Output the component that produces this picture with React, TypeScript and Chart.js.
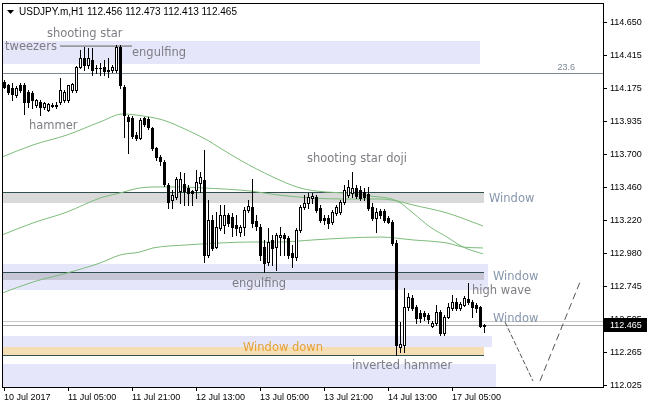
import React, { useEffect, useRef } from 'react';
import { Chart, registerables } from 'chart.js';

Chart.register(...registerables);

const SYMBOL = 'USDJPY.m,H1';
const HEADER_OHLC = '112.456 112.473 112.413 112.465';
const LAST_PRICE = 112.465;

const opens = [
  114.221, 114.200, 114.178, 114.127, 114.200, 114.200, 114.149, 114.142, 114.055, 114.077,
  114.040, 114.019, 114.055, 114.055, 114.077, 114.091, 114.091, 114.163, 114.163, 114.330,
  114.395, 114.344, 114.380, 114.322, 114.322, 114.330, 114.308, 114.308, 114.308, 114.474,
  114.185, 113.968, 113.961, 113.838, 113.816, 113.961, 113.954, 113.889, 113.744, 113.679,
  113.643, 113.476, 113.368, 113.390, 113.433, 113.484, 113.455, 113.433, 113.440, 113.491,
  113.513, 112.970, 113.223, 113.028, 113.165, 113.187, 113.260, 113.245, 113.187, 113.137,
  113.173, 113.296, 113.317, 113.216, 113.173, 113.028, 112.920, 113.079, 113.028, 113.100,
  113.115, 113.093, 112.985, 112.956, 113.151, 113.317, 113.346, 113.382, 113.390, 113.310,
  113.238, 113.238, 113.209, 113.274, 113.281, 113.353, 113.404, 113.419, 113.455, 113.440,
  113.426, 113.411, 113.317, 113.238, 113.288, 113.288, 113.238, 113.209, 113.057, 112.305,
  112.320, 112.594, 112.659, 112.594, 112.551, 112.551, 112.536, 112.457, 112.478, 112.558,
  112.406, 112.522, 112.587, 112.630, 112.587, 112.609, 112.652, 112.630, 112.609, 112.594,
  112.456,
];
const highs = [
  114.236, 114.207, 114.214, 114.192, 114.214, 114.214, 114.163, 114.156, 114.098, 114.091,
  114.077, 114.069, 114.069, 114.077, 114.250, 114.163, 114.200, 114.214, 114.337, 114.453,
  114.474, 114.467, 114.467, 114.344, 114.359, 114.380, 114.395, 114.344, 114.489, 114.489,
  114.200, 113.983, 113.975, 113.860, 113.961, 113.968, 113.968, 113.896, 113.751, 113.693,
  113.657, 113.491, 113.440, 113.534, 113.570, 113.563, 113.476, 113.440, 113.585, 113.570,
  113.729, 113.368, 113.260, 113.281, 113.332, 113.332, 113.274, 113.274, 113.260, 113.187,
  113.317, 113.368, 113.520, 113.260, 113.194, 113.079, 113.165, 113.115, 113.129, 113.173,
  113.129, 113.108, 113.043, 113.165, 113.332, 113.404, 113.419, 113.419, 113.404, 113.332,
  113.260, 113.260, 113.296, 113.332, 113.368, 113.476, 113.513, 113.570, 113.476, 113.469,
  113.455, 113.462, 113.346, 113.310, 113.303, 113.303, 113.252, 113.223, 113.079, 112.486,
  112.732, 112.695, 112.681, 112.609, 112.573, 112.565, 112.551, 112.493, 112.609, 112.573,
  112.536, 112.623, 112.681, 112.659, 112.630, 112.674, 112.768, 112.645, 112.623, 112.601,
  112.473,
];
const lows = [
  114.178, 114.134, 114.091, 114.113, 114.149, 113.990, 114.040, 114.033, 114.040, 113.983,
  114.026, 114.012, 114.040, 114.033, 114.062, 114.077, 114.077, 114.149, 114.149, 114.322,
  114.308, 114.322, 114.272, 114.286, 114.272, 114.272, 114.257, 114.293, 114.293, 114.178,
  113.823, 113.708, 113.816, 113.802, 113.809, 113.903, 113.881, 113.729, 113.657, 113.621,
  113.469, 113.310, 113.310, 113.375, 113.346, 113.332, 113.332, 113.332, 113.382, 113.426,
  112.920, 112.956, 113.006, 113.021, 113.151, 113.129, 113.180, 113.108, 113.115, 113.108,
  113.115, 113.281, 113.173, 113.151, 112.934, 112.847, 112.898, 112.898, 112.862, 112.970,
  112.970, 112.949, 112.883, 112.934, 113.137, 113.303, 113.310, 113.346, 113.281, 113.209,
  113.194, 113.165, 113.194, 113.260, 113.267, 113.339, 113.390, 113.390, 113.382, 113.368,
  113.368, 113.296, 113.223, 113.137, 113.238, 113.209, 113.202, 113.043, 112.247, 112.269,
  112.269, 112.573, 112.573, 112.478, 112.486, 112.500, 112.478, 112.450, 112.464, 112.392,
  112.392, 112.515, 112.573, 112.573, 112.573, 112.601, 112.616, 112.522, 112.558, 112.450,
  112.413,
];
const closes = [
  114.185, 114.149, 114.134, 114.178, 114.163, 114.077, 114.077, 114.091, 114.091, 114.040,
  114.069, 114.062, 114.051, 114.051, 114.163, 114.149, 114.200, 114.207, 114.330, 114.395,
  114.344, 114.395, 114.308, 114.319, 114.319, 114.301, 114.304, 114.330, 114.474, 114.200,
  113.983, 113.939, 113.831, 113.816, 113.946, 113.918, 113.896, 113.744, 113.679, 113.650,
  113.484, 113.353, 113.404, 113.520, 113.520, 113.433, 113.419, 113.419, 113.498, 113.534,
  112.970, 113.223, 113.021, 113.173, 113.260, 113.260, 113.202, 113.173, 113.165, 113.173,
  113.296, 113.325, 113.202, 113.180, 112.970, 112.912, 113.064, 113.021, 113.115, 113.115,
  113.093, 112.970, 112.956, 113.151, 113.317, 113.346, 113.390, 113.397, 113.296, 113.223,
  113.223, 113.202, 113.281, 113.317, 113.353, 113.440, 113.462, 113.455, 113.397, 113.382,
  113.390, 113.310, 113.238, 113.281, 113.260, 113.223, 113.209, 113.057, 112.320, 112.327,
  112.594, 112.667, 112.587, 112.515, 112.515, 112.529, 112.507, 112.478, 112.558, 112.406,
  112.522, 112.594, 112.630, 112.587, 112.616, 112.659, 112.630, 112.594, 112.587, 112.456,
  112.465,
];

const xTickBars = [0, 16, 32, 48, 64, 80, 96, 112];
const xTickLabels = ['10 Jul 2017', '11 Jul 05:00', '11 Jul 21:00', '12 Jul 13:00', '13 Jul 05:00', '13 Jul 21:00', '14 Jul 13:00', '17 Jul 05:00'];
const yTicks = [112.025, 112.265, 112.505, 112.745, 112.980, 113.220, 113.460, 113.700, 113.935, 114.175, 114.415, 114.650];

const maFastBars = [-0.5, 7.25, 15.75, 24, 29.75, 34.75, 39.75, 45.75, 50.75, 54, 59, 67.25, 74, 80.25, 85.25, 91.5, 98.25, 102.25, 106.5, 110.75, 114.75, 119.75];
const maFastValues = [113.679, 113.766, 113.838, 113.932, 113.990, 113.975, 113.946, 113.874, 113.802, 113.744, 113.657, 113.534, 113.455, 113.426, 113.419, 113.397, 113.361, 113.274, 113.173, 113.100, 113.028, 112.978];
const maMidBars = [-0.5, 7.25, 15.75, 24, 29, 34, 39, 44, 49.75, 61.5, 68.5, 77, 85.25, 94, 98.25, 102.25, 110.75, 119.75];
const maMidValues = [113.115, 113.202, 113.281, 113.382, 113.419, 113.455, 113.462, 113.462, 113.455, 113.433, 113.404, 113.382, 113.375, 113.375, 113.361, 113.332, 113.274, 113.180];
const maSlowBars = [-0.5, 7.25, 15.75, 24, 29, 34, 37.25, 45.75, 54, 61.5, 69, 77.25, 85.75, 94, 102.25, 110.75, 114.75, 119.75];
const maSlowValues = [112.695, 112.775, 112.840, 112.912, 112.970, 112.992, 113.021, 113.043, 113.057, 113.064, 113.064, 113.079, 113.093, 113.100, 113.079, 113.057, 113.028, 113.021];

const zigDownBars = [125.25, 132.25];
const zigDownPrices = [112.486, 112.059];
const zigUpBars = [134, 144];
const zigUpPrices = [112.059, 112.775];

const tweezersBars = [14, 32];
const tweezersPrice = 114.481;

// zones: top price, bottom price, last bar, kind
const zoneTop = [114.518, 113.426, 112.905, 112.847, 112.385, 112.305, 112.182];
const zoneBottom = [114.351, 113.346, 112.717, 112.789, 112.305, 112.247, 111.990];
const zoneEnd = [119, 120, 121, 120, 122, 120, 123];
const zoneKind = ['lavender', 'gray', 'lavender', 'mixed', 'lavender', 'wheat', 'lavender'];

const levelPrices = [113.426, 112.847, 112.247];
const levelEnd = [120, 120, 120];
const fiboPrice = 114.286;
const fiboLabel = '23.6';
const windowLinePrice = 112.495;

const noteTexts = ['tweezers', 'shooting star', 'engulfing', 'hammer', 'shooting star doji', 'Window', 'engulfing', 'Window', 'high wave', 'Window', 'Window down', 'inverted hammer'];
const noteBars = [0.25, 10.75, 32, 6.25, 75.75, 121.25, 57, 122.25, 117, 122.25, 59.75, 87];
const notePrices = [114.474, 114.568, 114.431, 113.903, 113.664, 113.375, 112.761, 112.811, 112.710, 112.507, 112.298, 112.168];

const COLORS: Record<string, string> = {
  lavender: '#E6E6FA',
  gray: '#D9D9D9',
  mixed: '#C6C6D6',
  wheat: '#F5DEB3',
};

const toPoints = (xs: number[], ys: number[]) => xs.map((v, i) => ({ x: v, y: ys[i] }));

const overlayPlugin = {
  id: 'mtOverlay',
  beforeDatasetsDraw(chart: any) {
    const { ctx, chartArea: a, scales } = chart;
    const x = scales.x, y = scales.y;
    ctx.save();
    ctx.beginPath();
    ctx.rect(a.left, a.top, a.right - a.left, a.bottom - a.top);
    ctx.clip();
    for (let i = 0; i < zoneTop.length; i++) {
      const yt = Math.round(y.getPixelForValue(zoneTop[i]));
      const yb = Math.round(y.getPixelForValue(zoneBottom[i]));
      const xr = Math.round(x.getPixelForValue(zoneEnd[i]));
      ctx.fillStyle = COLORS[zoneKind[i]];
      ctx.fillRect(a.left, yt, xr - a.left, yb - yt);
    }
    const hline = (p: number, x1: number, color: string) => {
      const py = Math.round(y.getPixelForValue(p));
      ctx.fillStyle = color;
      ctx.fillRect(a.left, py, x1 - a.left, 1);
    };
    hline(fiboPrice, a.right, '#7E8896');
    hline(windowLinePrice, a.right, '#C8C8C8');
    hline(LAST_PRICE, a.right, '#A8A8A8');
    for (let i = 0; i < levelPrices.length; i++) {
      hline(levelPrices[i], Math.round(x.getPixelForValue(levelEnd[i])), '#2F4F4F');
    }
    ctx.restore();
  },
  afterDatasetsDraw(chart: any) {
    const { ctx, chartArea: a, scales } = chart;
    const x = scales.x, y = scales.y;
    ctx.save();
    ctx.beginPath();
    ctx.rect(a.left, a.top, a.right - a.left, a.bottom - a.top);
    ctx.clip();
    for (let i = 0; i < opens.length; i++) {
      const cx = Math.round(x.getPixelForValue(i));
      const yo = Math.round(y.getPixelForValue(opens[i]));
      const yc = Math.round(y.getPixelForValue(closes[i]));
      const yh = Math.round(y.getPixelForValue(highs[i]));
      const yl = Math.round(y.getPixelForValue(lows[i]));
      ctx.fillStyle = '#000';
      ctx.fillRect(cx, yh, 1, yl - yh + 1);
      const top = Math.min(yo, yc);
      const bot = Math.max(yo, yc);
      ctx.fillRect(cx - 1, top, 3, bot - top + 1);
      if (closes[i] > opens[i] && bot - top >= 2) {
        ctx.fillStyle = '#fff';
        ctx.fillRect(cx, top + 1, 1, bot - top - 1);
      }
    }
    ctx.font = '11.5px "DejaVu Sans"';
    ctx.textBaseline = 'middle';
    ctx.textAlign = 'left';
    for (let i = 0; i < noteTexts.length; i++) {
      const t = noteTexts[i];
      ctx.fillStyle = t === 'Window' ? '#8797AE' : t === 'Window down' ? '#E5A038' : '#7D7D85';
      ctx.fillText(t, x.getPixelForValue(noteBars[i]), y.getPixelForValue(notePrices[i]));
    }
    ctx.font = '9px "Liberation Sans"';
    ctx.textAlign = 'right';
    ctx.textBaseline = 'bottom';
    ctx.fillStyle = '#7E8896';
    ctx.fillText(fiboLabel, a.right - 28, y.getPixelForValue(fiboPrice) - 1);
    ctx.restore();
  },
  afterDraw(chart: any) {
    const { ctx, chartArea: a, scales } = chart;
    const y = scales.y;
    ctx.save();
    ctx.fillStyle = '#000';
    ctx.fillRect(a.left, a.top, a.right - a.left + 1, 1);
    ctx.fillRect(a.left, a.bottom, a.right - a.left + 1, 1);
    ctx.fillRect(a.left, a.top, 1, a.bottom - a.top);
    ctx.fillRect(a.right, a.top, 1, a.bottom - a.top);
    // header
    ctx.beginPath();
    ctx.moveTo(7, 10);
    ctx.lineTo(14, 10);
    ctx.lineTo(10.5, 14);
    ctx.closePath();
    ctx.fill();
    ctx.font = '10px "Liberation Sans"';
    ctx.textBaseline = 'middle';
    ctx.textAlign = 'left';
    ctx.fillText(SYMBOL, 19, 12);
    ctx.fillText(HEADER_OHLC, 87, 12);
    // last price label
    const py = Math.round(y.getPixelForValue(LAST_PRICE));
    ctx.fillStyle = '#000';
    ctx.fillRect(a.right + 1, py - 7, 647 - a.right - 1, 14);
    ctx.fillStyle = '#fff';
    ctx.font = '9px "Liberation Sans"';
    ctx.fillText(LAST_PRICE.toFixed(3), a.right + 7, py + 0.5);
    ctx.restore();
  },
};

export default function App() {
  const ref = useRef<HTMLCanvasElement>(null);
  useEffect(() => {
    const lineDs = (data: any[], color: string, dash: number[] = [], tension = 0.4) => ({
      data,
      borderColor: color,
      borderWidth: 1,
      pointRadius: 0,
      borderDash: dash,
      tension,
      cubicInterpolationMode: 'monotone' as const,
      fill: false,
    });
    const chart = new Chart(ref.current!, {
      type: 'line',
      data: {
        datasets: [
          lineDs(toPoints(maFastBars, maFastValues), '#7CBC7C'),
          lineDs(toPoints(maMidBars, maMidValues), '#7CBC7C'),
          lineDs(toPoints(maSlowBars, maSlowValues), '#7CBC7C'),
          lineDs(toPoints(zigDownBars, zigDownPrices), '#555555', [5, 2], 0),
          lineDs(toPoints(zigUpBars, zigUpPrices), '#555555', [7, 4], 0),
          lineDs(toPoints(tweezersBars, [tweezersPrice, tweezersPrice]), '#606060', [], 0),
        ],
      },
      options: {
        responsive: false,
        devicePixelRatio: 1,
        animation: false,
        events: [],
        layout: { padding: { left: 2, top: 3, right: 0, bottom: 0 } },
        plugins: { legend: { display: false }, tooltip: { enabled: false } },
        scales: {
          x: {
            type: 'linear',
            position: 'bottom',
            min: -0.5,
            max: 149.75,
            bounds: 'data',
            afterBuildTicks: (s: any) => {
              s.ticks = xTickBars.map((v) => ({ value: v }));
            },
            afterFit: (s: any) => {
              s.height = 22;
              s.paddingLeft = 0;
              s.paddingRight = 0;
            },
            ticks: {
              autoSkip: false,
              maxRotation: 0,
              align: 'start',
              padding: 1,
              color: '#000',
              font: { family: 'Liberation Sans', size: 9 },
              callback: (v: any) => {
                const k = xTickBars.indexOf(Number(v));
                return k >= 0 ? xTickLabels[k] : '';
              },
            },
            grid: { drawOnChartArea: false, drawTicks: true, tickLength: 4, color: '#000' },
            border: { display: true, color: '#000' },
          },
          y: {
            type: 'linear',
            position: 'right',
            min: 112.0156,
            max: 114.7924,
            bounds: 'data',
            afterBuildTicks: (s: any) => {
              s.ticks = yTicks.map((v) => ({ value: v }));
            },
            afterFit: (s: any) => {
              s.width = 44;
              s.paddingTop = 0;
              s.paddingBottom = 0;
            },
            ticks: {
              padding: 3,
              color: '#000',
              font: { family: 'Liberation Sans', size: 9 },
              callback: (v: any) => Number(v).toFixed(3),
            },
            grid: { drawOnChartArea: false, drawTicks: true, tickLength: 4, color: '#000' },
            border: { display: true, color: '#000' },
          },
        },
      },
      plugins: [overlayPlugin],
    });
    return () => chart.destroy();
  }, []);
  return (
    <div style={{ position: 'absolute', left: 0, top: 0, width: 647, height: 409, background: '#fff' }}>
      <canvas ref={ref} width={647} height={409} style={{ display: 'block' }} />
    </div>
  );
}
